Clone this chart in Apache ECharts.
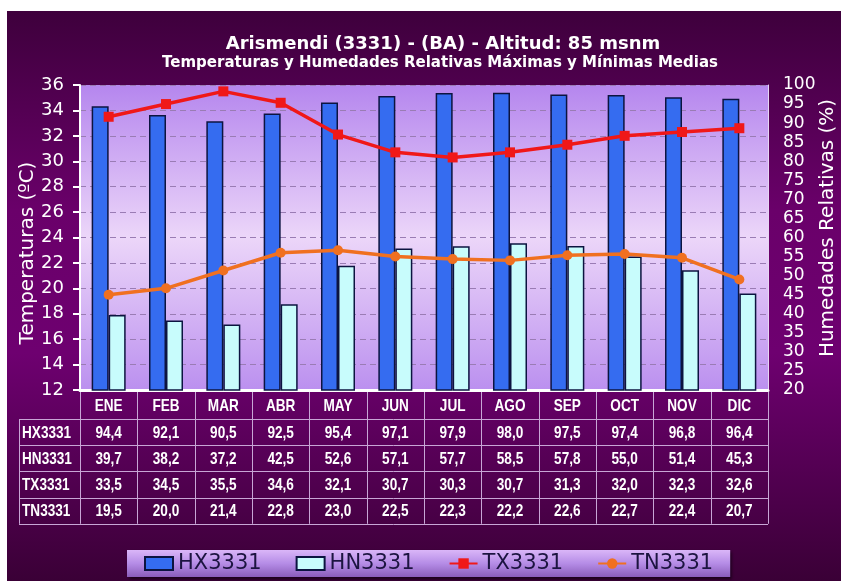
<!DOCTYPE html>
<html>
<head>
<meta charset="utf-8">
<script src="https://cdn.jsdelivr.net/npm/echarts@6/dist/echarts.min.js"></script>
<style>
  html, body { margin: 0; padding: 0; background: #ffffff; }
  #chart { width: 841px; height: 581px; }
</style>
</head>
<body>
<div id="chart"></div>
<script>
// Monthly mean values for station Arismendi (3331)
const months = ['ENE', 'FEB', 'MAR', 'ABR', 'MAY', 'JUN', 'JUL', 'AGO', 'SEP', 'OCT', 'NOV', 'DIC'];
const hx3331 = [94.4, 92.1, 90.5, 92.5, 95.4, 97.1, 97.9, 98.0, 97.5, 97.4, 96.8, 96.4];
const hn3331 = [39.7, 38.2, 37.2, 42.5, 52.6, 57.1, 57.7, 58.5, 57.8, 55.0, 51.4, 45.3];
const tx3331 = [33.5, 34.5, 35.5, 34.6, 32.1, 30.7, 30.3, 30.7, 31.3, 32.0, 32.3, 32.6];
const tn3331 = [19.5, 20.0, 21.4, 22.8, 23.0, 22.5, 22.3, 22.2, 22.6, 22.7, 22.4, 20.7];
const seriesNames = ['HX3331', 'HN3331', 'TX3331', 'TN3331'];
const tableRows = [hx3331, hn3331, tx3331, tn3331];

const chart = echarts.init(document.getElementById('chart'), null, { renderer: 'canvas' });

const GRID = { left: 80, top: 85, right: 73, bottom: 191 };
const TITLE_FONT = '"DejaVu Sans", Verdana, sans-serif';
const AXIS_FONT = '"DejaVu Sans", Verdana, sans-serif';
const TABLE_FONT = '"Liberation Sans", Arial, sans-serif';
const NARROW = 0.8; // horizontal squeeze for the table's bold text

const fmt = v => v.toFixed(1).replace('.', ',');

function background() {
  return [
    {
      type: 'rect', z: -10, silent: true,
      shape: { x: 7, y: 11, width: 834, height: 570 },
      style: {
        fill: new echarts.graphic.LinearGradient(0, 0, 0, 1, [
          { offset: 0, color: '#3e003c' },
          { offset: 0.35, color: '#6a006a' },
          { offset: 0.6, color: '#6e0070' },
          { offset: 1, color: '#3a0036' }
        ])
      }
    },
    {
      type: 'text', z: 5, silent: true,
      style: {
        x: 443, y: 44, text: 'Arismendi (3331) - (BA) - Altitud: 85 msnm',
        fill: '#ffffff', font: 'bold 18px ' + TITLE_FONT,
        align: 'center', verticalAlign: 'middle'
      }
    },
    {
      type: 'text', z: 5, silent: true,
      style: {
        x: 440, y: 63, text: 'Temperaturas y Humedades Relativas Máximas y Mínimas Medias',
        fill: '#ffffff', font: 'bold 15px ' + TITLE_FONT,
        align: 'center', verticalAlign: 'middle'
      }
    },
    {
      type: 'text', z: 5, silent: true, x: 18, y: 253, rotation: Math.PI / 2,
      style: {
        text: 'Temperaturas (ºC)', fill: '#ffffff', font: '20px ' + AXIS_FONT,
        align: 'center', verticalAlign: 'top'
      }
    },
    {
      type: 'text', z: 5, silent: true, x: 818, y: 228, rotation: Math.PI / 2,
      style: {
        text: 'Humedades Relativas (%)', fill: '#ffffff', font: '20px ' + AXIS_FONT,
        align: 'center', verticalAlign: 'top'
      }
    }
  ];
}

const option = {
  animation: false,
  backgroundColor: '#ffffff',
  grid: {
    left: GRID.left, top: GRID.top, right: GRID.right, bottom: GRID.bottom,
    show: true, borderWidth: 0,
    backgroundColor: new echarts.graphic.LinearGradient(0, 0, 0, 1, [
      { offset: 0, color: '#b586ee' },
      { offset: 0.5, color: '#ecd6f9' },
      { offset: 1, color: '#bb90ef' }
    ])
  },
  legend: {
    data: [
      { name: 'HX3331', icon: 'rect' },
      { name: 'HN3331', icon: 'rect' },
      { name: 'TX3331' },
      { name: 'TN3331' }
    ],
    left: 127, top: 550,
    padding: [3, 17, 3, 17],
    itemGap: 34,
    itemWidth: 28, itemHeight: 13,
    textStyle: { color: '#1c1440', fontSize: 21, fontFamily: AXIS_FONT },
    backgroundColor: new echarts.graphic.LinearGradient(0, 0, 0, 1, [
      { offset: 0, color: '#dab6f8' },
      { offset: 0.5, color: '#b58ce6' },
      { offset: 1, color: '#8a5cba' }
    ]),
    shadowColor: 'rgba(0,0,0,0.6)', shadowBlur: 3, shadowOffsetX: 2, shadowOffsetY: 2
  },
  xAxis: {
    type: 'category',
    data: months,
    axisLine: { show: true, lineStyle: { color: '#ffffff', width: 3 } },
    axisTick: { show: false },
    axisLabel: { show: false },
    splitLine: { show: false }
  },
  yAxis: [
    {
      type: 'value', min: 12, max: 36, interval: 2,
      axisLine: { show: true, lineStyle: { color: '#ffffff', width: 2 } },
      axisTick: { show: true, length: 7, lineStyle: { color: '#ffffff', width: 2 } },
      axisLabel: { color: '#ffffff', fontSize: 18, fontFamily: AXIS_FONT, margin: 16 },
      splitLine: { show: true, lineStyle: { color: '#9a7cb4', type: [6, 4], width: 1 } }
    },
    {
      type: 'value', min: 20, max: 100, interval: 5,
      axisLine: { show: true, lineStyle: { color: '#e6d6f4', width: 1 } },
      axisTick: { show: false },
      axisLabel: { color: '#ffffff', fontSize: 17, fontFamily: AXIS_FONT, margin: 15 },
      splitLine: { show: false }
    }
  ],
  series: [
    {
      name: 'HX3331', type: 'bar', yAxisIndex: 1, data: hx3331,
      barWidth: 17, barGap: '0%',
      itemStyle: { color: '#356cf0', borderColor: '#0c1440', borderWidth: 1.5 }
    },
    {
      name: 'HN3331', type: 'bar', yAxisIndex: 1, data: hn3331,
      barWidth: 17,
      itemStyle: { color: '#c8fcfc', borderColor: '#0c1440', borderWidth: 1.5 }
    },
    {
      name: 'TX3331', type: 'line', yAxisIndex: 0, data: tx3331,
      symbol: 'rect', symbolSize: 10, z: 5,
      lineStyle: { color: '#f01818', width: 3.5 },
      itemStyle: { color: '#f01818' }
    },
    {
      name: 'TN3331', type: 'line', yAxisIndex: 0, data: tn3331,
      symbol: 'circle', symbolSize: 10, z: 5,
      lineStyle: { color: '#f07020', width: 3.5 },
      itemStyle: { color: '#f07020' }
    }
  ],
  graphic: background()
};

chart.setOption(option);

// Data table under the category axis, aligned on the axis' columns
function buildTable() {
  const els = background();
  const lineColor = '#c8a6d6';
  const colX = i => chart.convertToPixel({ xAxisIndex: 0 }, i);
  const step = colX(1) - colX(0);
  const x0 = colX(0) - step / 2;
  const xEnd = x0 + step * months.length;
  const axisY = chart.convertToPixel({ yAxisIndex: 0 }, 12);
  const headerBottom = axisY + 29;
  const rowH = 26.2;
  const tableLeft = 19;
  const tableBottom = headerBottom + rowH * tableRows.length;
  const seg = (x1, y1, x2, y2) => ({
    type: 'line', silent: true, z: 4,
    shape: { x1, y1, x2, y2 },
    style: { stroke: lineColor, lineWidth: 1 }
  });
  const cell = (x, y, text, align) => ({
    type: 'text', z: 5, silent: true, x, y, scaleX: NARROW,
    style: {
      text, fill: '#ffffff', font: 'bold 17px ' + TABLE_FONT,
      align, verticalAlign: 'middle'
    }
  });

  // vertical separators between months (and outer right edge)
  for (let i = 0; i <= months.length; i++) {
    const x = Math.round(x0 + step * i) + 0.5;
    els.push(seg(x, axisY + 2, x, tableBottom));
  }
  // outer left edge of the row label column
  els.push(seg(tableLeft + 0.5, headerBottom, tableLeft + 0.5, tableBottom));
  // horizontal row lines
  for (let r = 0; r <= tableRows.length; r++) {
    const y = Math.round(headerBottom + rowH * r) + 0.5;
    els.push(seg(tableLeft, y, xEnd, y));
  }
  // month header row
  months.forEach((m, i) => els.push(cell(colX(i), axisY + 16, m, 'center')));
  // row labels and values
  tableRows.forEach((row, r) => {
    const cy = headerBottom + rowH * r + rowH / 2 + 1;
    els.push(cell(tableLeft + 3, cy, seriesNames[r], 'left'));
    row.forEach((v, i) => els.push(cell(colX(i), cy, fmt(v), 'center')));
  });
  chart.setOption({ graphic: els }, { replaceMerge: ['graphic'] });
}
buildTable();
</script>
</body>
</html>
